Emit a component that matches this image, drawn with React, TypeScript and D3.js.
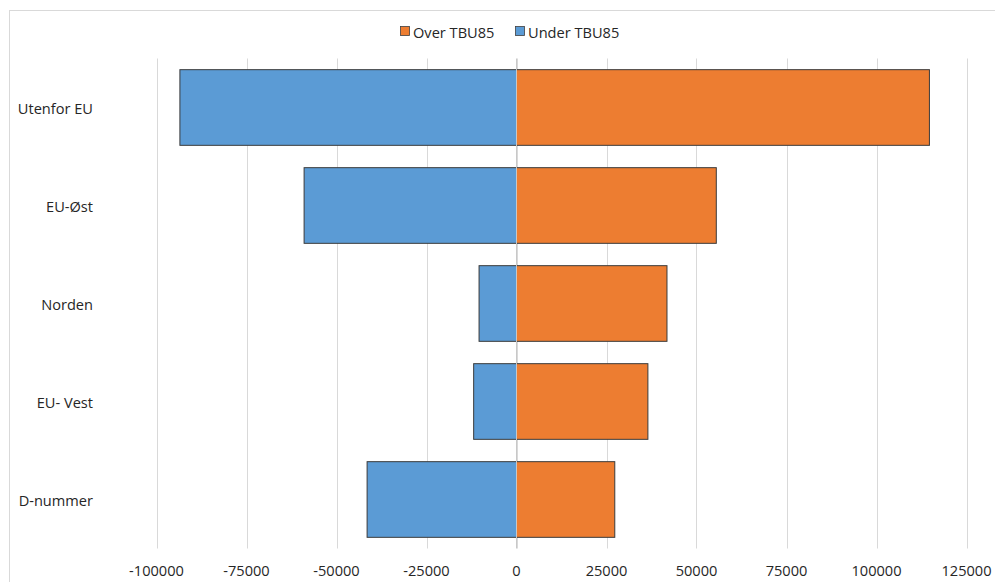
import React from "react";
import * as d3 from "d3";

const categories = ["Utenfor EU", "EU-Øst", "Norden", "EU- Vest", "D-nummer"];
const overTBU85 = [114700, 55500, 41800, 36500, 27300];
const underTBU85 = [-93500, -59000, -10400, -11900, -41500];
const xTicks = [-100000, -75000, -50000, -25000, 0, 25000, 50000, 75000, 100000, 125000];
const seriesNames = ["Over TBU85", "Under TBU85"];
const seriesColors = ["#ED7D31", "#5B9BD5"];

const W = 995;
const H = 582;
const FONT = "'Open Sans', 'Noto Sans', sans-serif";
const FS = 14.6;

export default function App() {
  const x = d3.scaleLinear().domain([-100000, 125000]).range([156.5, 966.5]);
  const y = d3
    .scaleBand<string>()
    .domain(categories)
    .range([58.5, 548.5])
    .paddingInner(0.228)
    .paddingOuter(0.114);
  const bw = y.bandwidth();

  return (
    <svg
      width={W}
      height={H}
      style={{ position: "absolute", left: 0, top: 0, background: "#fff" }}
      fontFamily={FONT}
    >
      <rect x={9.5} y={10.5} width={1000} height={600} fill="#fff" stroke="#d9d9d9" strokeWidth={1} />
      {/* legend */}
      <g>
        <rect x={400.5} y={26.5} width={9} height={9} fill={seriesColors[0]} stroke="#404040" strokeWidth={0.8} />
        <text x={413} y={31.5} dominantBaseline="central" fontSize={FS} fill="#262626">
          {seriesNames[0]}
        </text>
        <rect x={515.5} y={26.5} width={9} height={9} fill={seriesColors[1]} stroke="#404040" strokeWidth={0.8} />
        <text x={528} y={31.5} dominantBaseline="central" fontSize={FS} fill="#262626">
          {seriesNames[1]}
        </text>
      </g>
      {/* gridlines */}
      {xTicks.map((t) => (
        <line
          key={"g" + t}
          x1={Math.round(x(t)) + 0.5}
          x2={Math.round(x(t)) + 0.5}
          y1={58.5}
          y2={548.5}
          stroke="#d9d9d9"
          strokeWidth={1}
        />
      ))}
      {/* bars */}
      {categories.map((c, i) => (
        <g key={c}>
          <rect
            x={x(underTBU85[i])}
            y={y(c)!}
            width={x(0) - x(underTBU85[i])}
            height={bw}
            fill={seriesColors[1]}
            stroke="#3a3a3a"
            strokeWidth={1}
          />
          <rect
            x={x(0)}
            y={y(c)!}
            width={x(overTBU85[i]) - x(0)}
            height={bw}
            fill={seriesColors[0]}
            stroke="#3a3a3a"
            strokeWidth={1}
          />
        </g>
      ))}
      {/* zero axis line */}
      <line x1={x(0)} x2={x(0)} y1={58.5} y2={548.5} stroke="#c8c8c8" strokeWidth={1} />
      {/* category labels */}
      {categories.map((c) => (
        <text
          key={"l" + c}
          x={93}
          y={y(c)! + bw / 2}
          textAnchor="end"
          dominantBaseline="central"
          fontSize={FS}
          fill="#262626"
        >
          {c}
        </text>
      ))}
      {/* x tick labels */}
      {xTicks.map((t) => (
        <text
          key={"t" + t}
          x={x(t)}
          y={570}
          textAnchor="middle"
          dominantBaseline="central"
          fontSize={FS}
          fill="#262626"
        >
          {String(t)}
        </text>
      ))}
    </svg>
  );
}
